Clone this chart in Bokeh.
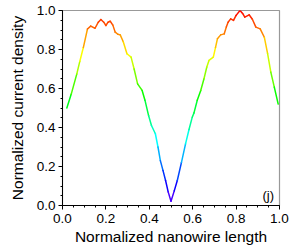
import colorsys
from bokeh.plotting import figure
from bokeh.models import ColumnDataSource, FixedTicker, Label
from bokeh.embed import file_html
from bokeh.resources import INLINE

# Normalized nanowire length (x) and normalized current density (y)
x_vals = [0.02, 0.04, 0.066, 0.08, 0.096, 0.115, 0.13, 0.15, 0.165, 0.177, 0.19, 0.2,
          0.21, 0.22, 0.232, 0.243, 0.255, 0.266, 0.28, 0.297, 0.316, 0.33, 0.346, 0.367,
          0.38, 0.397, 0.41, 0.428, 0.44, 0.451, 0.463, 0.475, 0.487, 0.50,
          0.515, 0.529, 0.548, 0.567, 0.583, 0.598, 0.606, 0.621, 0.637, 0.652, 0.665,
          0.675, 0.695, 0.705, 0.714, 0.729, 0.745, 0.755, 0.763, 0.775, 0.788, 0.80,
          0.818, 0.83, 0.84, 0.86, 0.875, 0.891, 0.911, 0.93, 0.945, 0.96, 0.976, 0.994]
y_vals = [0.50, 0.57, 0.675, 0.74, 0.81, 0.905, 0.92, 0.909, 0.94, 0.954, 0.94, 0.923,
          0.94, 0.945, 0.925, 0.889, 0.878, 0.875, 0.84, 0.778, 0.761, 0.70, 0.624, 0.59,
          0.54, 0.46, 0.41, 0.368, 0.30, 0.23, 0.18, 0.128, 0.07, 0.022,
          0.075, 0.128, 0.22, 0.316, 0.39, 0.453, 0.475, 0.54, 0.59, 0.65, 0.71,
          0.744, 0.761, 0.81, 0.855, 0.875, 0.88, 0.915, 0.94, 0.957, 0.949, 0.975,
          1.0, 0.985, 0.966, 0.978, 0.955, 0.915, 0.906, 0.863, 0.78, 0.684, 0.607, 0.52]

major_ticks = [0.0, 0.2, 0.4, 0.6, 0.8, 1.0]
minor_ticks = [i * 0.05 for i in range(21)]
panel_tag = "(j)"


def rainbow(v):
    h = max(0.0, min(1.0, 1.0 - v)) * 270.0 / 360.0
    r, g, b = colorsys.hsv_to_rgb(h, 1.0, 1.0)
    return "#%02x%02x%02x" % (int(r * 255), int(g * 255), int(b * 255))


x0 = x_vals[:-1]
x1 = x_vals[1:]
y0 = y_vals[:-1]
y1 = y_vals[1:]
cols = [rainbow((a + b) / 2) for a, b in zip(y0, y1)]
src = ColumnDataSource(dict(x0=x0, x1=x1, y0=y0, y1=y1, c=cols))

p = figure(width=300, height=252, output_backend="svg", toolbar_location=None,
           x_range=(0, 1), y_range=(0, 1),
           min_border_left=62, min_border_right=21, min_border_top=10, min_border_bottom=47)

p.segment("x0", "y0", "x1", "y1", source=src, line_color="c", line_width=1.5,
          line_cap="round")

p.xgrid.visible = False
p.ygrid.visible = False
p.outline_line_color = "#999999"
p.outline_line_width = 1.2

for ax in (p.xaxis[0], p.yaxis[0]):
    ax.ticker = FixedTicker(ticks=major_ticks, minor_ticks=minor_ticks)
    ax.axis_line_color = "black"
    ax.axis_line_width = 1
    ax.major_tick_line_color = "black"
    ax.minor_tick_line_color = "black"
    ax.major_tick_in = 0
    ax.major_tick_out = 4
    ax.minor_tick_in = 0
    ax.minor_tick_out = 2
    ax.major_label_text_font = "Liberation Sans"
    ax.major_label_text_font_size = "13.5px"
    ax.major_label_text_color = "black"
    ax.axis_label_text_font = "Liberation Sans"
    ax.axis_label_text_font_size = "15.5px"
    ax.axis_label_text_font_style = "normal"
    ax.axis_label_text_color = "black"

p.xaxis[0].major_label_overrides = {t: "%.1f" % t for t in major_ticks}
p.yaxis[0].major_label_overrides = {t: "%.1f" % t for t in major_ticks}
p.xaxis.axis_label = "Normalized nanowire length"
p.yaxis.axis_label = "Normalized current density"
p.xaxis.major_label_standoff = 4
p.yaxis.major_label_standoff = 3
p.xaxis.axis_label_standoff = 2
p.yaxis.axis_label_standoff = 8

p.add_layout(Label(x=0.975, y=0.015, text=panel_tag, text_align="right",
                   text_baseline="bottom", text_font="Liberation Sans",
                   text_font_size="13px", text_color="black"))

open("out.html", "w").write(file_html(p, INLINE))
